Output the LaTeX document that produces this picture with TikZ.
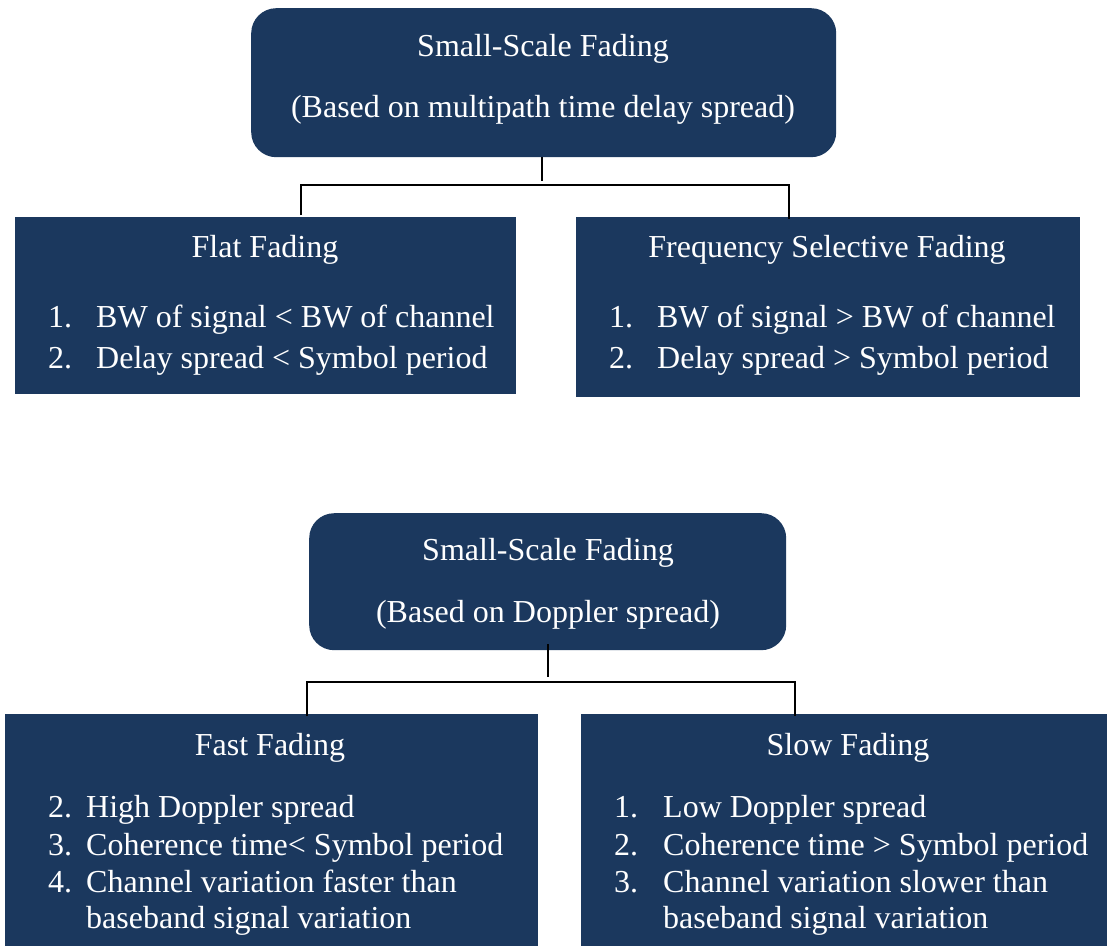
\documentclass[tikz,border=0pt]{standalone}
\usepackage{fontspec}
\setmainfont{Liberation Serif}
\definecolor{navy}{RGB}{27,56,94}
\begin{document}
\begin{tikzpicture}[x=1pt,y=-1pt,
  panel/.style={fill=navy,draw=none,anchor=north west,inner sep=0pt},
  rpanel/.style={panel,rounded corners=25pt},
  txt/.style={text=white,font=\fontsize{32}{37}\selectfont,inner sep=0pt},
  ctr/.style={txt,anchor=base},
  lft/.style={txt,anchor=base west},
  wire/.style={draw=black,line width=2pt}]
\useasboundingbox (0,0) rectangle (1107,945);

% ---- first tree: classification by multipath delay spread ----
\node[rpanel,minimum width=585pt,minimum height=149pt] (top1) at (251,8) {};
\node[panel,minimum width=501pt,minimum height=177pt] (flat) at (15,217) {};
\node[panel,minimum width=504pt,minimum height=180pt] (fsel) at (576,217) {};

\node[ctr] (t1a) at (543,56) {Small-Scale Fading};
\node[ctr] (t1b) at (543,117) {(Based on multipath time delay spread)};

\node[ctr] (flatt) at (265,257) {Flat Fading};
\node[lft] (f1n) at (48,327) {1.};
\node[lft] (f1t) at (96,327) {BW of signal < BW of channel};
\node[lft] (f2n) at (48,368) {2.};
\node[lft] (f2t) at (96,368) {Delay spread < Symbol period};

\node[ctr] (fselt) at (827,257) {Frequency Selective Fading};
\node[lft] (s1n) at (609,327) {1.};
\node[lft] (s1t) at (657,327) {BW of signal > BW of channel};
\node[lft] (s2n) at (609,368) {2.};
\node[lft] (s2t) at (657,368) {Delay spread > Symbol period};

\coordinate (j1) at (542,181);
\coordinate (b1l) at (301,185);
\coordinate (b1r) at (789,185);
\draw[wire] (top1.south -| j1) -- (j1);
\draw[wire] (flat.north -| b1l) ++(0,-2) -- (b1l) -- (b1r) -- ([yshift=-2pt]fsel.north -| b1r);

% ---- second tree: classification by Doppler spread ----
\node[rpanel,minimum width=477pt,minimum height=137pt] (top2) at (309,513) {};
\node[panel,minimum width=533pt,minimum height=235pt] (fast) at (5,714) {};
\node[panel,minimum width=530pt,minimum height=235pt] (slow) at (581,714) {};

\node[ctr] (t2a) at (548,560) {Small-Scale Fading};
\node[ctr] (t2b) at (548,622) {(Based on Doppler spread)};

\node[ctr] (fastt) at (270,755) {Fast Fading};
\node[lft] (a2n) at (48,817) {2.};
\node[lft] (a2t) at (86,817) {High Doppler spread};
\node[lft] (a3n) at (48,855) {3.};
\node[lft] (a3t) at (86,855) {Coherence time< Symbol period};
\node[lft] (a4n) at (48,892) {4.};
\node[lft] (a4t) at (86,892) {Channel variation faster than};
\node[lft] (a4u) at (86,928) {baseband signal variation};

\node[ctr] (slowt) at (848,755) {Slow Fading};
\node[lft] (w1n) at (614,817) {1.};
\node[lft] (w1t) at (663,817) {Low Doppler spread};
\node[lft] (w2n) at (614,855) {2.};
\node[lft] (w2t) at (663,855) {Coherence time > Symbol period};
\node[lft] (w3n) at (614,892) {3.};
\node[lft] (w3t) at (663,892) {Channel variation slower than};
\node[lft] (w3u) at (663,928) {baseband signal variation};

\coordinate (j2) at (548,677);
\coordinate (b2l) at (307,682);
\coordinate (b2r) at (795,682);
\draw[wire] ([yshift=6pt]top2.south -| j2) -- (j2);
\draw[wire] ([yshift=-2pt]fast.north -| b2l) -- (b2l) -- (b2r) -- ([yshift=-2pt]slow.north -| b2r);
\end{tikzpicture}
\end{document}
